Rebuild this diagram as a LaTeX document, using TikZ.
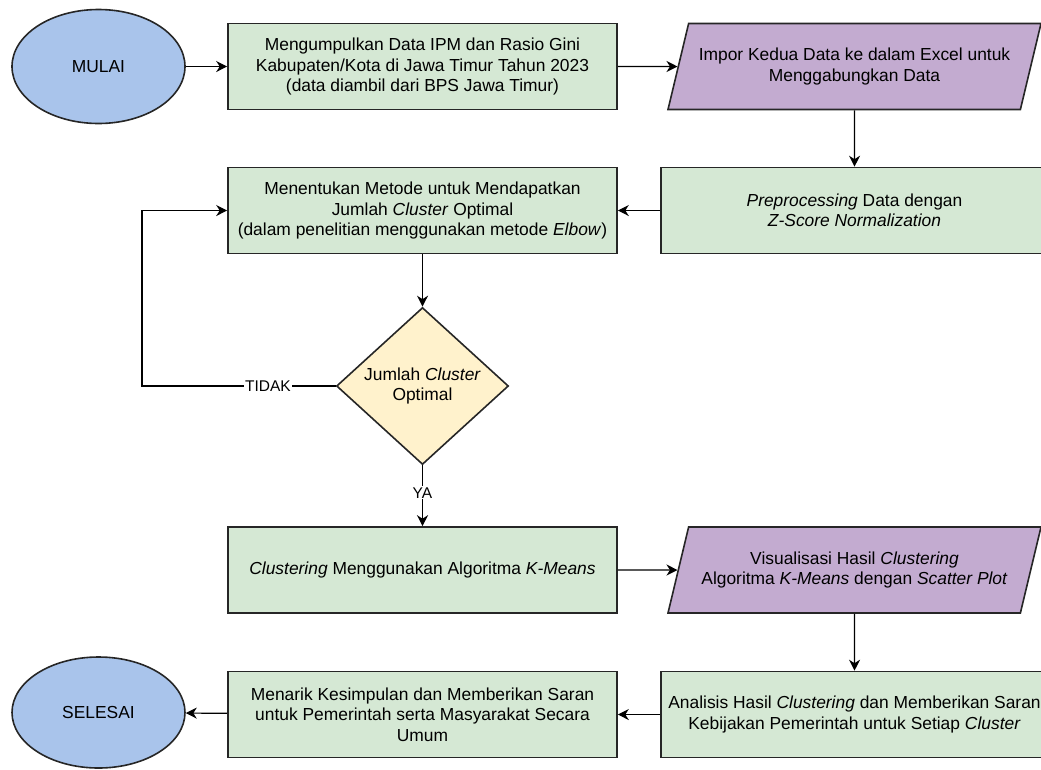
\documentclass[tikz,border=0pt]{standalone}
\usepackage{fontspec}
\setmainfont{Liberation Sans}
\usetikzlibrary{shapes.geometric,arrows.meta}

\definecolor{hijau}{HTML}{D5E8D4}
\definecolor{ungu}{HTML}{C3ABD0}
\definecolor{biru}{HTML}{A9C4EB}
\definecolor{kuning}{HTML}{FFF2CC}

\begin{document}
\begin{tikzpicture}[x=1pt, y=-1pt, line width=1.2pt, font=\fontsize{17.4}{20.5}\selectfont,
					proses/.style = {draw=black!85, rectangle, fill=hijau, line width=1.6pt, minimum width=389pt, minimum height=86pt, inner sep=0pt, align=center},
					io/.style = {draw=black!85, trapezium, trapezium left angle=76, trapezium right angle=104, trapezium stretches body, fill=ungu, line width=1.6pt, minimum width=373pt, minimum height=86pt, inner xsep=0pt, inner ysep=23pt, align=center},
					ujung/.style = {draw=black!85, ellipse, fill=biru, line width=1.6pt, minimum width=173pt, minimum height=114pt, inner sep=0pt},
					cek/.style = {draw=black!85, diamond, aspect=1.1, fill=kuning, line width=1.6pt, minimum width=172pt, minimum height=157pt, inner sep=0pt, align=center},
					panah/.style = {-{Stealth[length=11pt, width=11pt, inset=3.5pt]}},
					ket/.style = {fill=white, inner sep=1pt, font=\fontsize{15.5}{18}\selectfont}]

					\useasboundingbox (0,0) rectangle (1041,769);

					\node[ujung] (mulai) at (98.5, 66.5) {MULAI};
					\node[proses] (kumpul) at (422.5, 66.5) {Mengumpulkan Data IPM dan Rasio Gini\\Kabupaten/Kota di Jawa Timur Tahun 2023\\(data diambil dari BPS Jawa Timur)};
					\node[io] (impor) at (854.5, 66.5) {Impor Kedua Data ke dalam Excel untuk\\Menggabungkan Data};
					\node[proses, minimum width=387pt] (prep) at (854.5, 210.5) {\textit{Preprocessing} Data dengan\\\textit{Z-Score Normalization}};
					\node[proses] (metode) at (422.5, 210.5) {Menentukan Metode untuk Mendapatkan\\Jumlah \textit{Cluster} Optimal\\(dalam penelitian menggunakan metode \textit{Elbow})};
					\node[cek] (optimal) at (422.5, 386) {Jumlah \textit{Cluster}\\Optimal};
					\coordinate (balik) at (142, 386);
					\node[proses] (kmeans) at (422.5, 570) {\textit{Clustering} Menggunakan Algoritma \textit{K-Means}};
					\node[io] (visual) at (854.5, 570) {Visualisasi Hasil \textit{Clustering}\\Algoritma \textit{K-Means} dengan \textit{Scatter Plot}};
					\node[proses, minimum width=387pt] (analisis) at (854.5, 714.5) {Analisis Hasil \textit{Clustering} dan Memberikan Saran\\Kebijakan Pemerintah untuk Setiap \textit{Cluster}};
					\node[proses] (simpul) at (422.5, 714.5) {Menarik Kesimpulan dan Memberikan Saran\\untuk Pemerintah serta Masyarakat Secara\\Umum};
					\node[ujung, minimum height=111pt] (selesai) at (98.5, 712.5) {SELESAI};

					\draw[panah] (mulai) -- (kumpul);
					\draw[panah] (kumpul) -- (impor);
					\draw[panah] (impor) -- (prep);
					\draw[panah] (prep) -- (metode);
					\draw[panah] (metode) -- (optimal);
					\draw[panah] (optimal.west) -- node[ket, pos=0.35] {TIDAK} (optimal.west -| balik) |- (metode.west);
					\draw[panah] (optimal) -- node[ket, pos=0.45] {YA} (kmeans);
					\draw[panah] (kmeans) -- (visual);
					\draw[panah] (visual) -- (analisis);
					\draw[panah] (analisis) -- (simpul);
					\draw[panah] (simpul) -- (selesai);

				\end{tikzpicture}
\end{document}
